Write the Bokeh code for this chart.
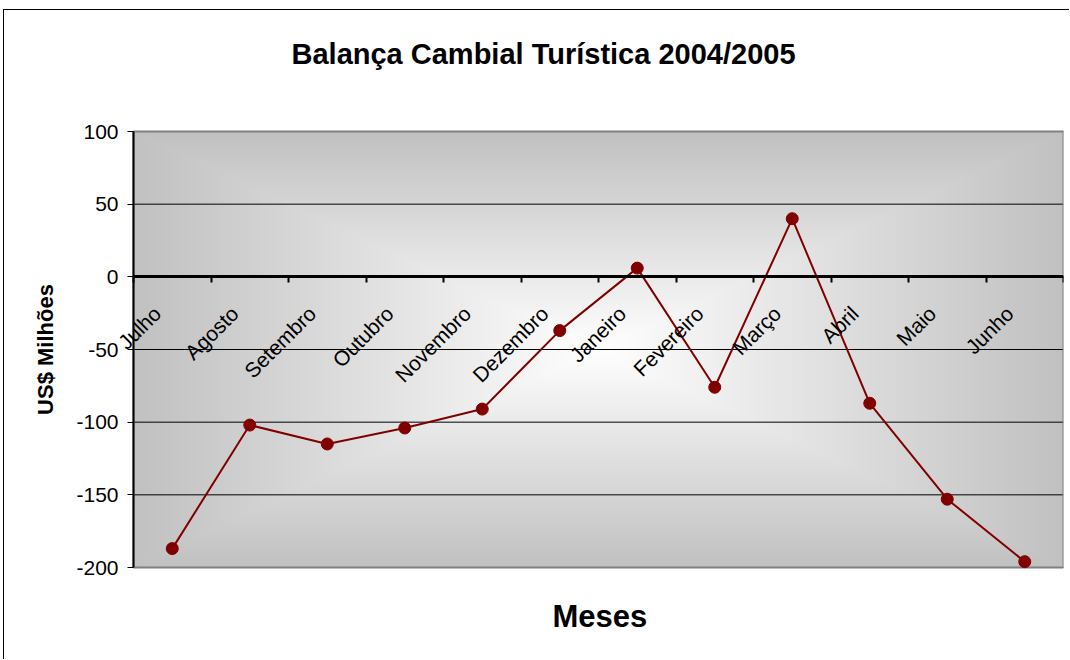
import numpy as np
from math import pi
from bokeh.plotting import figure
from bokeh.models import Range1d, FixedTicker, Title, LinearAxis
from bokeh.embed import file_html
from bokeh.resources import INLINE

# ---- data ----
months = ["Julho", "Agosto", "Setembro", "Outubro", "Novembro", "Dezembro",
          "Janeiro", "Fevereiro", "Março", "Abril", "Maio", "Junho"]
balance = [-187, -102, -115, -104, -91, -37, 6, -76, 40, -87, -153, -196]
y_ticks = [-200, -150, -100, -50, 0, 50, 100]
title_text = "Balança Cambial Turística 2004/2005"
x_title = "Meses"
y_title = "US$ Milhões"

y_min, y_max = y_ticks[0], y_ticks[-1]
n = len(months)
xs = [i + 0.5 for i in range(n)]
boundaries = list(range(n + 1))

FONT = "Liberation Sans"

# canvas starts at page (4, 10); plot area (data box) is 133..1063 x 131..567
OX, OY = 4, 10
W, H = 1066, 650
AREA_L, AREA_R, AREA_T, AREA_B = 133, 1063, 131, 567
FRAME_L, FRAME_T, FRAME_B = 12, 121, 586       # larger frame so labels are not clipped
BL = FRAME_L - OX
BR = OX + W - AREA_R
BT = FRAME_T - OY
BB = OY + H - FRAME_B
px_x = (AREA_R - AREA_L) / n
px_y = (AREA_B - AREA_T) / (y_max - y_min)
x_start = -(AREA_L - FRAME_L) / px_x
y_top = y_max + (AREA_T - FRAME_T) / px_y
y_bot = y_min - (FRAME_B - AREA_B) / px_y

p = figure(width=W, height=H,
           x_range=Range1d(x_start, n), y_range=Range1d(y_bot, y_top),
           output_backend="svg", toolbar_location=None,
           min_border_left=BL, min_border_right=BR,
           min_border_top=BT, min_border_bottom=BB)
p.styles = {"margin-left": "3px", "margin-top": "9px",
            "border-style": "solid none none solid",
            "border-width": "1px", "border-color": "black"}
p.background_fill_color = "white"
p.border_fill_color = "white"
p.outline_line_color = None
p.xgrid.visible = False
p.ygrid.visible = False

# box gradient background of the plot area (white centre, silver edges)
nx, ny = 465, 218
u = np.linspace(-1, 1, nx)
v = np.linspace(-1, 1, ny)
t = np.maximum(np.abs(u)[None, :], np.abs(v)[:, None])
c = (255 - 62 * t).astype(np.uint8)
img = np.empty((ny, nx), dtype=np.uint32)
view = img.view(dtype=np.uint8).reshape((ny, nx, 4))
view[..., 0] = c
view[..., 1] = c
view[..., 2] = c
view[..., 3] = 255
p.image_rgba(image=[img], x=0, y=y_min, dw=n, dh=y_max - y_min, level="image")

# horizontal grid lines across the plot area
p.segment(x0=[0] * len(y_ticks), x1=[n] * len(y_ticks), y0=y_ticks, y1=y_ticks,
          line_color="black", line_width=1)
# plot-area border
p.quad(left=[0], right=[n], bottom=[y_min], top=[y_max],
       fill_color=None, line_color="#808080", line_width=2)

# y axis at x = 0
p.yaxis.fixed_location = 0
p.yaxis.bounds = (y_min, y_max)
p.yaxis.ticker = FixedTicker(ticks=y_ticks)
p.yaxis.major_label_overrides = {tk: str(tk) for tk in y_ticks}
p.yaxis.axis_line_color = "black"
p.yaxis.axis_line_width = 2
p.yaxis.major_tick_out = 6
p.yaxis.major_tick_in = 0
p.yaxis.major_tick_line_color = "black"
p.yaxis.minor_tick_line_color = None
p.yaxis.major_label_text_font = FONT
p.yaxis.major_label_text_font_size = "21px"
p.yaxis.major_label_text_color = "black"
p.yaxis.major_label_standoff = 9
p.yaxis.axis_label = y_title
p.yaxis.axis_label_text_font = FONT
p.yaxis.axis_label_text_font_size = "22px"
p.yaxis.axis_label_text_font_style = "bold"
p.yaxis.axis_label_text_color = "black"
p.yaxis.axis_label_standoff = 15

# x axis on the zero line: tick marks between categories (minor ticks),
# rotated category names as major labels
p.xaxis.visible = False
label_shift_px = 15
label_pos = [x - label_shift_px / px_x for x in xs]
xax = LinearAxis(fixed_location=0, bounds=(0, n),
                 ticker=FixedTicker(ticks=label_pos, minor_ticks=boundaries),
                 major_label_overrides={lp: m for lp, m in zip(label_pos, months)},
                 major_label_orientation=pi / 4,
                 major_label_standoff=27,
                 major_label_text_font=FONT,
                 major_label_text_font_size="21px",
                 major_label_text_color="black",
                 axis_line_color="black", axis_line_width=3,
                 major_tick_line_color=None, major_tick_out=0, major_tick_in=0,
                 minor_tick_line_color="black", minor_tick_line_width=2,
                 minor_tick_out=6, minor_tick_in=0)
p.add_layout(xax, "below")

# series
p.line(xs, balance, line_color="#800000", line_width=2)
p.scatter(xs, balance, size=12, fill_color="#800000", line_color="#800000")

# titles (thin spacer titles push the real ones away from the plot area)
p.add_layout(Title(text=" ", text_font_size="1px", standoff=49), "above")
p.add_layout(Title(text=title_text, align="left", offset=291 - FRAME_L,
                   standoff=0, text_font=FONT, text_font_size="29px",
                   text_font_style="bold", text_color="black"), "above")
p.add_layout(Title(text=" ", text_font_size="1px", standoff=7), "below")
p.add_layout(Title(text=x_title, align="left", offset=552 - FRAME_L,
                   standoff=0, text_font=FONT, text_font_size="31px",
                   text_font_style="bold", text_color="black"), "below")

open("out.html", "w").write(file_html(p, INLINE))
